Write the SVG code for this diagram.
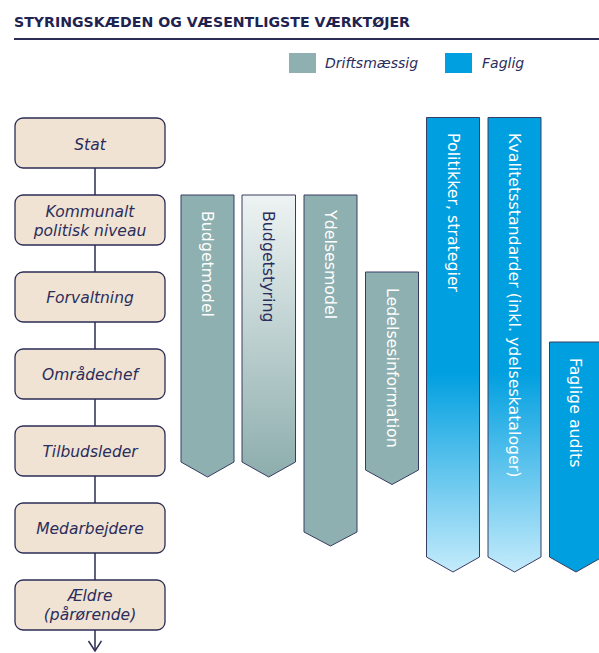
<svg xmlns="http://www.w3.org/2000/svg" width="599" height="653" viewBox="0 0 599 653">
<defs>
<linearGradient id="gStyr" x1="0" y1="0" x2="0" y2="1">
<stop offset="0" stop-color="#eef3f3"/>
<stop offset="1" stop-color="#8dadad"/>
</linearGradient>
<linearGradient id="gBlue" x1="0" y1="0" x2="0" y2="1">
<stop offset="0" stop-color="#009fe0"/>
<stop offset="0.56" stop-color="#009fe0"/>
<stop offset="1" stop-color="#c4ebfb"/>
</linearGradient>
<marker id="open" markerWidth="12" markerHeight="16" refX="11" refY="7" orient="auto" markerUnits="userSpaceOnUse" viewBox="0 0 12 16">
<path d="M1 0.5 L11 7 L1 13.5" fill="none" stroke="#2b2d55" stroke-width="1.5"/>
</marker>
</defs>
<style>
.title{font-family:"DejaVu Sans",Verdana,sans-serif;font-weight:bold;font-size:14.5px;fill:#1f2350}
.leg{font-family:"DejaVu Sans",Verdana,sans-serif;font-style:italic;font-size:14px;fill:#2b2d5c}
.box{fill:#f0e3d3;stroke:#2b2d55;stroke-width:1.3}
.bt{font-family:"DejaVu Sans",Verdana,sans-serif;font-style:italic;font-size:15.5px;fill:#2b2d5c;text-anchor:middle}
.con{stroke:#2b2d55;stroke-width:1.5;fill:none}
.arr{stroke:#3a3c63;stroke-width:1}
.teal{fill:#8fb0b0}
.blue{fill:#009fe0}
.at{font-family:"DejaVu Sans",Verdana,sans-serif;font-size:15.8px;fill:#ffffff}
.atd{fill:#2b2d5c}
</style>
<rect width="599" height="653" fill="#ffffff"/>
<text class="title" x="14" y="27" textLength="396" lengthAdjust="spacingAndGlyphs">STYRINGSKÆDEN OG VÆSENTLIGSTE VÆRKTØJER</text>
<line x1="14" y1="39" x2="599" y2="39" stroke="#2b2d55" stroke-width="2"/>
<g id="legend">
<rect x="289" y="53" width="27" height="20" fill="#8fb0b0"/>
<text class="leg" x="325" y="68">Driftsmæssig</text>
<rect x="445" y="53" width="27" height="20" fill="#009fe0"/>
<text class="leg" x="482" y="68">Faglig</text>
</g>
<g id="connectors">
<line class="con" x1="95" y1="168" x2="95" y2="195"/>
<line class="con" x1="95" y1="245" x2="95" y2="272"/>
<line class="con" x1="95" y1="322" x2="95" y2="349"/>
<line class="con" x1="95" y1="399" x2="95" y2="426"/>
<line class="con" x1="95" y1="476" x2="95" y2="503"/>
<line class="con" x1="95" y1="553" x2="95" y2="580"/>
<line class="con" x1="95" y1="630" x2="95" y2="651" marker-end="url(#open)"/>
</g>
<g id="stat"><rect class="box" x="15" y="118" width="150" height="50" rx="8"/><text class="bt" x="90" y="150">Stat</text></g>
<g id="kommunalt"><rect class="box" x="15" y="195" width="150" height="50" rx="8"/><text class="bt" x="90" y="217">Kommunalt</text><text class="bt" x="90" y="236">politisk niveau</text></g>
<g id="forvaltning"><rect class="box" x="15" y="272" width="150" height="50" rx="8"/><text class="bt" x="90" y="303">Forvaltning</text></g>
<g id="omraadechef"><rect class="box" x="15" y="349" width="150" height="50" rx="8"/><text class="bt" x="90" y="380">Områdechef</text></g>
<g id="tilbudsleder"><rect class="box" x="15" y="426" width="150" height="50" rx="8"/><text class="bt" x="90" y="457">Tilbudsleder</text></g>
<g id="medarbejdere"><rect class="box" x="15" y="503" width="150" height="50" rx="8"/><text class="bt" x="90" y="534">Medarbejdere</text></g>
<g id="aeldre"><rect class="box" x="15" y="580" width="150" height="50" rx="8"/><text class="bt" x="90" y="601">Ældre</text><text class="bt" x="90" y="620">(pårørende)</text></g>
<g id="budgetmodel"><path class="arr teal" d="M181 195 H234 V462 L207.5 477 L181 462 Z"/><text class="at" transform="translate(202 211) rotate(90)">Budgetmodel</text></g>
<g id="budgetstyring"><path class="arr" fill="url(#gStyr)" d="M242 195 H295.5 V462 L268.75 477 L242 462 Z"/><text class="at atd" transform="translate(263 211) rotate(90)">Budgetstyring</text></g>
<g id="ydelsesmodel"><path class="arr teal" d="M304 195 H357 V532 L330.5 546 L304 532 Z"/><text class="at" transform="translate(324.5 210) rotate(90)">Ydelsesmodel</text></g>
<g id="ledelsesinformation"><path class="arr teal" d="M365.5 272 H418.5 V470 L392 484.5 L365.5 470 Z"/><text class="at" transform="translate(386.5 288) rotate(90)">Ledelsesinformation</text></g>
<g id="politikker"><path class="arr" fill="url(#gBlue)" d="M426.5 117.5 H479.5 V557 L453 572 L426.5 557 Z"/><text class="at" transform="translate(447.5 133) rotate(90)">Politikker, strategier</text></g>
<g id="kvalitetsstandarder"><path class="arr" fill="url(#gBlue)" d="M488 117.5 H541 V557 L514.5 572 L488 557 Z"/><text class="at" transform="translate(509 133) rotate(90)">Kvalitetsstandarder (inkl. ydelseskataloger)</text></g>
<g id="faglige"><path class="arr blue" d="M549.5 342 H602.5 V557 L576 572 L549.5 557 Z"/><text class="at" transform="translate(570 358) rotate(90)">Faglige audits</text></g>
</svg>
